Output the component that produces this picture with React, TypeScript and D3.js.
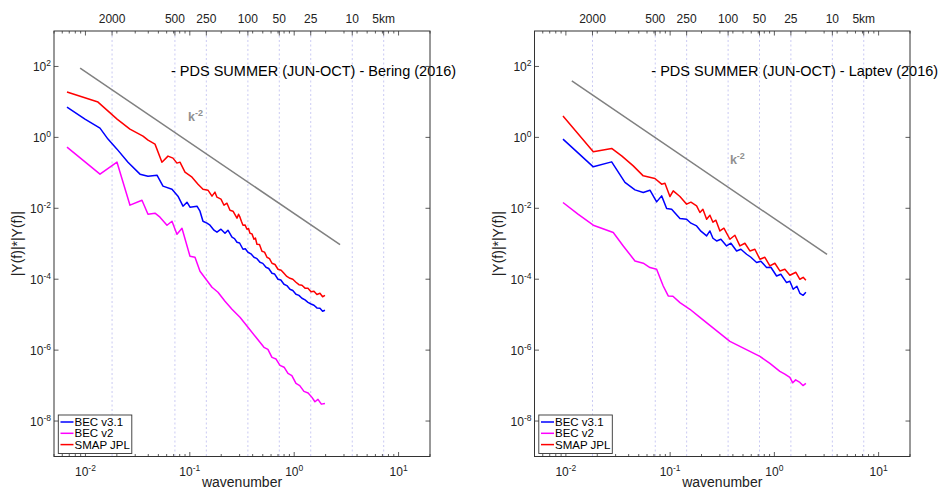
import React from "react";
import * as d3 from "d3";

// ---------- data (wavenumber, |Y(f)|*|Y(f)|) ----------
const beringBlue: [number, number][] = [[0.00666,7.15],[0.0099,3.28],[0.01379,1.825],[0.01645,0.893],[0.02007,0.466],[0.02557,0.2],[0.03333,0.0918],[0.03975,0.0806],[0.04849,0.086],[0.05534,0.0421],[0.06751,0.0346],[0.07703,0.022],[0.08602,0.01147],[0.09395,0.01487],[0.1004,0.01074],[0.1172,0.01147],[0.1252,0.00828],[0.1337,0.00432],[0.146,0.0038],[0.1561,0.00333],[0.1705,0.00241],[0.182,0.00212],[0.1989,0.00257],[0.2173,0.00198],[0.232,0.00241],[0.2535,0.00153],[0.268,0.0014],[0.2831,0.0011],[0.30,0.00105],[0.3231,0.0007],[0.34,0.00072],[0.3607,0.000576],[0.385,0.00052],[0.4118,0.000416],[0.44,0.00038],[0.47,0.000301],[0.50,0.00028],[0.5366,0.000217],[0.57,0.0002],[0.6125,0.000147],[0.65,0.00014],[0.6993,9.96e-5],[0.745,9.5e-5],[0.798,7.2e-5],[0.85,6.6e-5],[0.911,5.2e-5],[0.97,4.8e-5],[1.04,3.76e-5],[1.11,3.5e-5],[1.187,2.9e-5],[1.27,2.6e-5],[1.355,2.23e-5],[1.45,2.0e-5],[1.547,1.84e-5],[1.65,1.55e-5],[1.766,1.51e-5],[1.87,1.25e-5],[1.972,1.33e-5]];
const beringMagenta: [number, number][] = [[0.00666,0.531],[0.01379,0.0918],[0.02007,0.2],[0.02673,0.01224],[0.03482,0.01693],[0.03975,0.00681],[0.04638,0.00727],[0.05179,0.00561],[0.06045,0.00333],[0.06751,0.00432],[0.0753,0.00186],[0.08414,0.00274],[0.1004,0.000444],[0.1121,0.000416],[0.1252,0.000168],[0.1429,9.96e-5],[0.1631,5.92e-5],[0.1862,4.28e-5],[0.2173,2.38e-5],[0.2535,1.42e-5],[0.3024,8.42e-6],[0.3607,4.4e-6],[0.4303,2.3e-6],[0.5134,1.2e-6],[0.56,1.05e-6],[0.6125,6.25e-7],[0.67,5.6e-7],[0.7309,3.72e-7],[0.80,3.3e-7],[0.8717,2.21e-7],[0.95,1.9e-7],[1.04,1.15e-7],[1.13,1.0e-7],[1.24,6.86e-8],[1.36,6.2e-8],[1.48,4.65e-8],[1.58,3.5e-8],[1.69,4.08e-8],[1.82,3.0e-8],[1.972,3.14e-8]];
const beringRed: [number, number][] = [[0.00666,19.0],[0.0132,9.9],[0.0201,3.28],[0.0267,1.71],[0.0356,1.09],[0.0398,0.837],[0.0464,0.645],[0.0541,0.2],[0.0618,0.296],[0.069,0.26],[0.0753,0.188],[0.0805,0.2],[0.0899,0.1045],[0.105,0.0755],[0.1198,0.0479],[0.1337,0.0346],[0.1493,0.0324],[0.1631,0.022],[0.1742,0.0285],[0.182,0.0206],[0.1989,0.0181],[0.2125,0.0122],[0.227,0.0139],[0.2426,0.00884],[0.2593,0.00828],[0.2831,0.00525],[0.293,0.0068],[0.3024,0.00561],[0.312,0.0043],[0.3231,0.00333],[0.338,0.0034],[0.3529,0.00257],[0.365,0.0027],[0.377,0.00198],[0.394,0.0019],[0.4118,0.00134],[0.425,0.00145],[0.4398,0.00097],[0.465,0.00095],[0.4912,0.000615],[0.52,0.00058],[0.5484,0.000416],[0.58,0.00038],[0.6125,0.000282],[0.655,0.00026],[0.6993,0.000191],[0.75,0.00018],[0.798,0.000147],[0.85,0.00012],[0.911,0.000106],[0.97,0.0001],[1.04,8.2e-5],[1.11,7.0e-5],[1.187,6.75e-5],[1.27,5.6e-5],[1.355,5.55e-5],[1.45,4.4e-5],[1.547,4.56e-5],[1.65,3.7e-5],[1.766,4.0e-5],[1.87,3.2e-5],[1.972,3.52e-5]];

const laptevBlue: [number, number][] = [[0.00938,0.893],[0.01832,0.1475],[0.02749,0.204],[0.03687,0.0535],[0.046,0.0331],[0.05522,0.0279],[0.06404,0.0324],[0.07422,0.01516],[0.08291,0.0224],[0.09259,0.00987],[0.1034,0.00943],[0.1242,0.00515],[0.144,0.00492],[0.1583,0.0038],[0.1795,0.00318],[0.1974,0.00226],[0.2239,0.00166],[0.2408,0.0023],[0.2574,0.00143],[0.2792,0.0012],[0.307,0.00134],[0.3481,0.000868],[0.3828,0.001034],[0.4342,0.000627],[0.4775,0.0007],[0.5413,0.000506],[0.5953,0.000416],[0.6753,0.000295],[0.7424,0.000321],[0.8418,0.000213],[0.9257,0.000217],[1.05,0.000123],[1.154,0.000138],[1.309,8.04e-5],[1.408,8.75e-5],[1.515,5.2e-5],[1.644,6.32e-5],[1.757,4.0e-5],[1.889,3.52e-5],[2.006,4.28e-5]];
const laptevMagenta: [number, number][] = [[0.00938,0.01459],[0.01306,0.00681],[0.01832,0.00333],[0.02848,0.00207],[0.03551,0.000868],[0.046,0.000327],[0.05522,0.000282],[0.06404,0.000213],[0.07422,0.000191],[0.08588,6.45e-5],[0.09589,3.37e-5],[0.1064,3.3e-5],[0.1242,2.19e-5],[0.1548,1.42e-5],[0.1931,8.42e-6],[0.2408,5.0e-6],[0.3003,2.98e-6],[0.3745,1.77e-6],[0.467,1.28e-6],[0.5823,9.24e-7],[0.7261,6.67e-7],[0.9055,4.23e-7],[1.129,2.52e-7],[1.26,2.1e-7],[1.408,1.7e-7],[1.5,1.2e-7],[1.6,1.45e-7],[1.757,1.23e-7],[1.88,1.0e-7],[2.006,1.15e-7]];
const laptevRed: [number, number][] = [[0.00938,3.98],[0.01832,0.391],[0.02749,0.488],[0.03451,0.296],[0.04428,0.1574],[0.05522,0.0822],[0.07149,0.0694],[0.08291,0.0479],[0.08918,0.0511],[0.09957,0.0215],[0.1071,0.031],[0.1242,0.0215],[0.144,0.01305],[0.1583,0.01487],[0.1795,0.01169],[0.1931,0.00761],[0.2063,0.00943],[0.2239,0.00492],[0.2408,0.00639],[0.2574,0.00405],[0.2749,0.00461],[0.3003,0.0023],[0.328,0.00274],[0.3745,0.00134],[0.4181,0.00174],[0.467,0.000868],[0.5215,0.001034],[0.5823,0.000627],[0.6503,0.0007],[0.7261,0.000366],[0.811,0.000416],[0.9055,0.000237],[1.011,0.000282],[1.129,0.000171],[1.261,0.000191],[1.408,0.000129],[1.608,0.000157],[1.757,9.96e-5],[1.889,0.000113],[2.006,9.33e-5]];

// k^-2 reference segments (end points)
const beringRef: [number, number][] = [[0.0089, 90], [2.75, 9.4e-4]];
const laptevRef: [number, number][] = [[0.0114, 39.5], [3.2, 5.0e-4]];

// tick labels
const kmLabels = ["2000", "500", "250", "100", "50", "25", "10", "5km"];
const kmWavenumbers = [0.018, 0.072, 0.144, 0.36, 0.72, 1.44, 3.6, 7.2];
const yTickExponents = [2, 0, -2, -4, -6, -8];
const xTickExponents = [-2, -1, 0, 1];
const legendLabels = ["BEC v3.1", "BEC v2", "SMAP JPL"];
const seriesColors = ["#0000ff", "#ff00ff", "#ff0000"];
const titles = ["- PDS SUMMER (JUN-OCT) - Bering (2016)", "- PDS SUMMER (JUN-OCT) - Laptev (2016)"];

const FONT = "'Liberation Sans', Arial, Helvetica, sans-serif";
const AX = "#333333";

type PanelProps = {
  x0: number; x1: number; title: string;
  series: [number, number][][]; refLine: [number, number][];
  kLabelPos: [number, number];
};

function Panel({ x0, x1, title, series, refLine, kLabelPos }: PanelProps) {
  const top = 31, bottom = 456.5;
  const x = d3.scaleLog().domain([0.005, 20]).range([x0, x1]);
  const y = d3.scaleLog().domain([1e-9, 1e3]).range([bottom, top]);
  const line = d3.line<[number, number]>().x(d => x(d[0])).y(d => y(d[1]));
  const minor = x.ticks();
  const isMajor = (v: number) => Math.abs(Math.log10(v) - Math.round(Math.log10(v))) < 1e-6;
  const cx = (x0 + x1) / 2, cy = (top + bottom) / 2;
  return (
    <g fontFamily={FONT}>
      {kmWavenumbers.map((k, i) => (
        <line key={"g" + i} x1={x(k)} x2={x(k)} y1={top} y2={bottom} stroke="#c4c4f2" strokeWidth={0.9} strokeDasharray="2,2.5" />
      ))}
      <path d={line(refLine) || ""} fill="none" stroke="#808080" strokeWidth={1.5} />
      {series.map((s, i) => (
        <path key={"s" + i} d={line(s) || ""} fill="none" stroke={seriesColors[i]} strokeWidth={1.5} strokeLinejoin="round" />
      ))}
      <text x={x(0.066)} y={y(55)} fontSize={14.5} fill="#000">{title}</text>
      <text x={x(kLabelPos[0])} y={y(kLabelPos[1])} fontSize={12.5} fontWeight="bold" fill="#909090">
        k<tspan dy={-5} fontSize={9}>-2</tspan>
      </text>
      <rect x={x0} y={top} width={x1 - x0} height={bottom - top} fill="none" stroke={AX} strokeWidth={1} />
      {minor.map((v, i) => {
        const len = isMajor(v) ? 4.5 : 2.5;
        return (
          <g key={"t" + i}>
            <line x1={x(v)} x2={x(v)} y1={bottom} y2={bottom - len} stroke={AX} strokeWidth={0.8} />
            <line x1={x(v)} x2={x(v)} y1={top} y2={top + len} stroke={AX} strokeWidth={0.8} />
          </g>
        );
      })}
      {kmWavenumbers.map((k, i) => (
        <line key={"kt" + i} x1={x(k)} x2={x(k)} y1={top} y2={top + 4.5} stroke={AX} strokeWidth={0.8} />
      ))}
      {kmLabels.map((s, i) => (
        <text key={"kl" + i} x={x(kmWavenumbers[i])} y={23} textAnchor="middle" fontSize={12} fill="#222">{s}</text>
      ))}
      {yTickExponents.map((e, i) => (
        <g key={"y" + i}>
          <line x1={x0} x2={x0 + 4.5} y1={y(Math.pow(10, e))} y2={y(Math.pow(10, e))} stroke={AX} strokeWidth={0.8} />
          <line x1={x1} x2={x1 - 4.5} y1={y(Math.pow(10, e))} y2={y(Math.pow(10, e))} stroke={AX} strokeWidth={0.8} />
          <text x={x0 - 3} y={y(Math.pow(10, e)) + 4.5} textAnchor="end" fontSize={12} fill="#222">
            10<tspan dy={-5} fontSize={8.5}>{e}</tspan>
          </text>
        </g>
      ))}
      {xTickExponents.map((e, i) => (
        <text key={"x" + i} x={x(Math.pow(10, e))} y={476} textAnchor="middle" fontSize={12} fill="#222">
          10<tspan dy={-5} fontSize={8.5}>{e}</tspan>
        </text>
      ))}
      <text x={cx} y={487} textAnchor="middle" fontSize={14} fill="#222">wavenumber</text>
      <text transform={`translate(${x0 - 32},${cy}) rotate(-90)`} textAnchor="middle" fontSize={14} fill="#222">|Y(f)|*|Y(f)|</text>
      <g>
        <rect x={x0 + 4.3} y={415} width={73.5} height={38.5} fill="#fff" stroke={AX} strokeWidth={0.9} />
        {legendLabels.map((s, i) => (
          <g key={"l" + i}>
            <line x1={x0 + 6.5} x2={x0 + 19.5} y1={422 + i * 11.3} y2={422 + i * 11.3} stroke={seriesColors[i]} strokeWidth={1.5} />
            <text x={x0 + 20.5} y={426 + i * 11.3} fontSize={11.5} fill="#000">{s}</text>
          </g>
        ))}
      </g>
    </g>
  );
}

export default function App() {
  return (
    <svg width={939} height={491} style={{ position: "absolute", left: 0, top: 0, background: "#fff" }}>
      <rect width={939} height={491} fill="#fff" />
      <Panel x0={54} x1={430} title={titles[0]} series={[beringBlue, beringMagenta, beringRed]} refLine={beringRef} kLabelPos={[0.096, 2.88]} />
      <Panel x0={534.5} x1={910} title={titles[1]} series={[laptevBlue, laptevMagenta, laptevRed]} refLine={laptevRef} kLabelPos={[0.3745, 0.176]} />
    </svg>
  );
}
